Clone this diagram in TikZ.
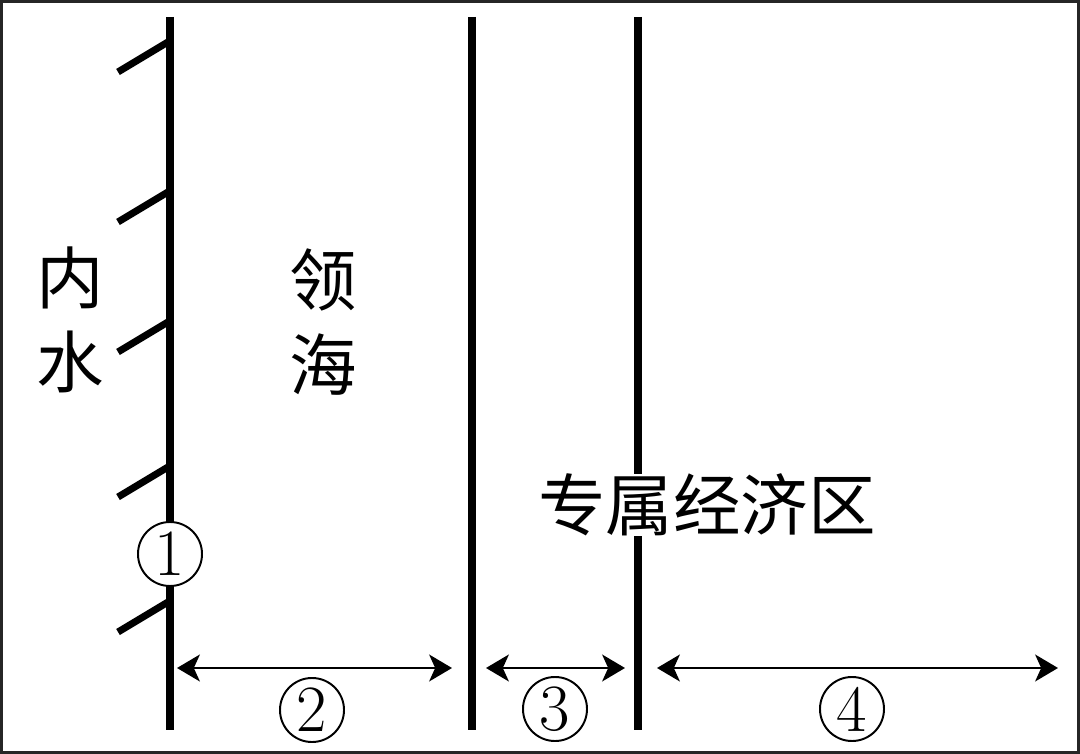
\documentclass[tikz,border=0pt]{standalone}
\usepackage{fontspec}
\newfontfamily\cjk{Noto Sans CJK SC}
\usetikzlibrary{arrows.meta}

\begin{document}
\begin{tikzpicture}[x=0.025cm,y=-0.025cm,
    zone/.style={font=\cjk\fontsize{48}{60}\selectfont,align=center,inner sep=0pt},
    num/.style={circle,draw,line width=1.4pt,minimum size=1.6cm,inner sep=0pt,fill=white,
      font=\fontsize{47}{50}\selectfont},
    border/.style={line width=5.7pt},
    coast/.style={line width=5pt},
    span/.style={line width=2.1pt,{Stealth[length=0.57cm,width=0.67cm,inset=0.15cm]}-{Stealth[length=0.57cm,width=0.67cm,inset=0.15cm]}}]
  \useasboundingbox (0,0) rectangle (1080,754);
  \draw[line width=2.1pt,black!85] (1.5,1.5) rectangle (1078.5,752.5);

  % base line with the coast
  \coordinate (base top) at (170,17);
  \coordinate (base bottom) at (170,730);
  \node[num] (n1) at (170,554) {1};
  \draw[border] (base top) -- (n1);
  \draw[border] (n1) -- (base bottom);
  \foreach \y in {42,192,322,467,602}
    \draw[coast] (168,\y) -- (118,\y+30);

  % outer limits
  \coordinate (sea top) at (472,17);
  \coordinate (sea bottom) at (472,730);
  \coordinate (zone top) at (638,17);
  \coordinate (zone bottom) at (638,730);
  \draw[border] (sea top) -- (sea bottom);
  \draw[border] (zone top) -- (zone bottom);

  \node[zone,fill=white] (eez) at (707,505) {专属经济区};

  \node[zone] (inner) at (70,320) {内\\水};
  \node[zone] (sea) at (323,322) {领\\海};

  % widths
  \coordinate (a1) at (177,668);
  \coordinate (a2) at (452,668);
  \coordinate (b1) at (486,668);
  \coordinate (b2) at (625,668);
  \coordinate (c1) at (657,668);
  \coordinate (c2) at (1058,668);
  \draw[span] (a1) -- (a2);
  \draw[span] (b1) -- (b2);
  \draw[span] (c1) -- (c2);

  \node[num] (n2) at (312,710) {2};
  \node[num] (n3) at (555,709) {3};
  \node[num] (n4) at (852,709) {4};
\end{tikzpicture}
\end{document}
